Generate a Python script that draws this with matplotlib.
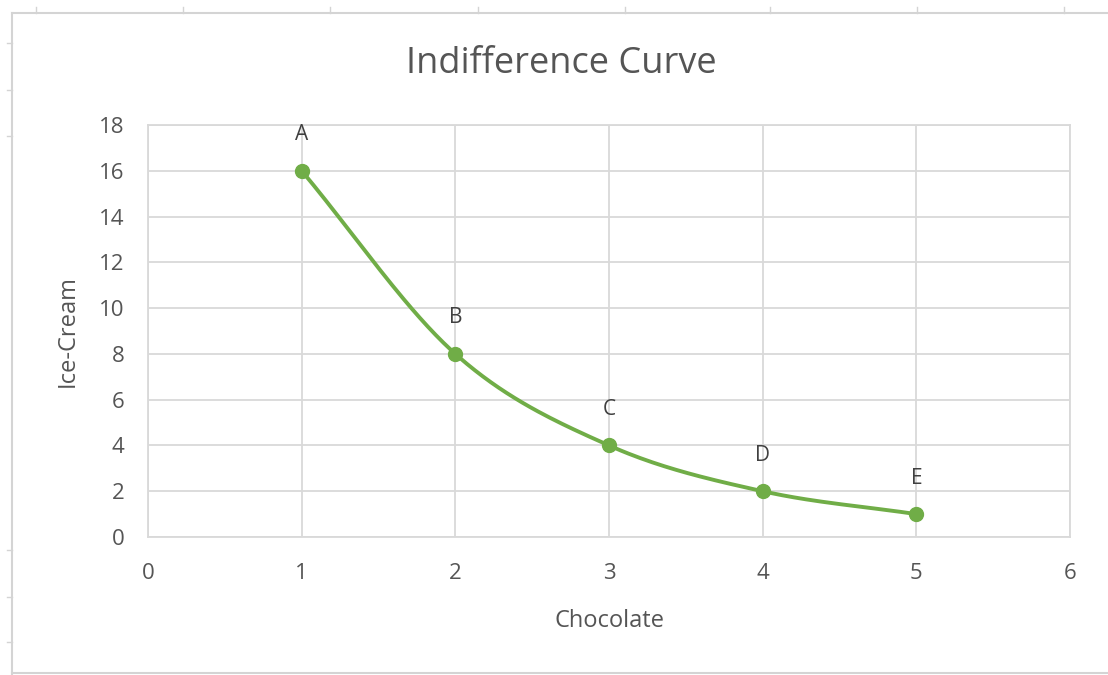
import numpy as np
import matplotlib.pyplot as plt
from matplotlib.lines import Line2D

chocolate = [1, 2, 3, 4, 5]
ice_cream = [16, 8, 4, 2, 1]
point_labels = ["A", "B", "C", "D", "E"]

green = "#70AD47"
text_gray = "#555555"
grid_gray = "#D9D9D9"

plt.rcParams['font.family'] = ['Open Sans', 'DejaVu Sans']


def smooth(xs, ys, n=40):
    # Catmull-Rom style curve like Excel's "smoothed line"
    xs = np.asarray(xs, float)
    ys = np.asarray(ys, float)
    px = np.concatenate([[2 * xs[0] - xs[1]], xs, [2 * xs[-1] - xs[-2]]])
    py = np.concatenate([[2 * ys[0] - ys[1]], ys, [2 * ys[-1] - ys[-2]]])
    out_x, out_y = [], []
    t = np.linspace(0, 1, n)
    for i in range(1, len(px) - 2):
        p0, p1, p2, p3 = px[i - 1], px[i], px[i + 1], px[i + 2]
        q0, q1, q2, q3 = py[i - 1], py[i], py[i + 1], py[i + 2]
        b1x, b1y = p1 + (p2 - p0) / 6, q1 + (q2 - q0) / 6
        b2x, b2y = p2 - (p3 - p1) / 6, q2 - (q3 - q1) / 6
        bx = (1 - t) ** 3 * p1 + 3 * (1 - t) ** 2 * t * b1x + 3 * (1 - t) * t ** 2 * b2x + t ** 3 * p2
        by = (1 - t) ** 3 * q1 + 3 * (1 - t) ** 2 * t * b1y + 3 * (1 - t) * t ** 2 * b2y + t ** 3 * q2
        out_x.extend(bx)
        out_y.extend(by)
    return out_x, out_y


fig = plt.figure(figsize=(11.08, 6.75), dpi=100)
W, H = 1108, 675

# spreadsheet chart frame and cell marks
frame = "#D4D4D4"
fig.add_artist(Line2D([12 / W, 12 / W], [0, 1 - 13 / H], color=frame, lw=1.5))
fig.add_artist(Line2D([12 / W, 1], [1 - 13 / H, 1 - 13 / H], color=frame, lw=1.5))
fig.add_artist(Line2D([12 / W, 1], [2 / H, 2 / H], color=frame, lw=1.5))
for x in [36, 183, 330, 478, 625, 770, 917, 1064]:
    fig.add_artist(Line2D([x / W, x / W], [1 - 13 / H, 1 - 7 / H], color=frame, lw=1))
for y in [43, 90, 136, 550, 597, 642]:
    fig.add_artist(Line2D([7 / W, 12 / W], [1 - y / H, 1 - y / H], color=frame, lw=1))

ax = fig.add_axes([148 / W, 138 / H, 922 / W, 412 / H])
ax.set_xlim(0, 6)
ax.set_ylim(0, 18)
ax.set_xticks(range(0, 7))
ax.set_yticks(range(0, 19, 2))
ax.grid(True, color=grid_gray, lw=1.3)
ax.set_axisbelow(True)
for s in ax.spines.values():
    s.set_color(grid_gray)
    s.set_linewidth(1.3)
ax.tick_params(axis='y', length=0, labelsize=16, colors=text_gray, pad=17)
ax.tick_params(axis='x', length=0, labelsize=16, colors=text_gray, pad=19)

sx, sy = smooth(chocolate, ice_cream)
ax.plot(sx, sy, color=green, lw=2.8, solid_capstyle='round')
ax.plot(chocolate, ice_cream, 'o', color=green, ms=10)

for x, y, lab in zip(chocolate, ice_cream, point_labels):
    ax.annotate(lab, (x, y), xytext=(0, 22), textcoords='offset points',
                ha='center', va='baseline', fontsize=15, color="#404040")

ax.set_xlabel("Chocolate", fontsize=17, color=text_gray, labelpad=18)
ax.set_ylabel("Ice-Cream", fontsize=17, color=text_gray, labelpad=14)
fig.text(561 / W, 1 - 64 / H, "Indifference Curve", ha='center', va='center',
         fontsize=26, color=text_gray)

fig.savefig("out.png", dpi=100)
